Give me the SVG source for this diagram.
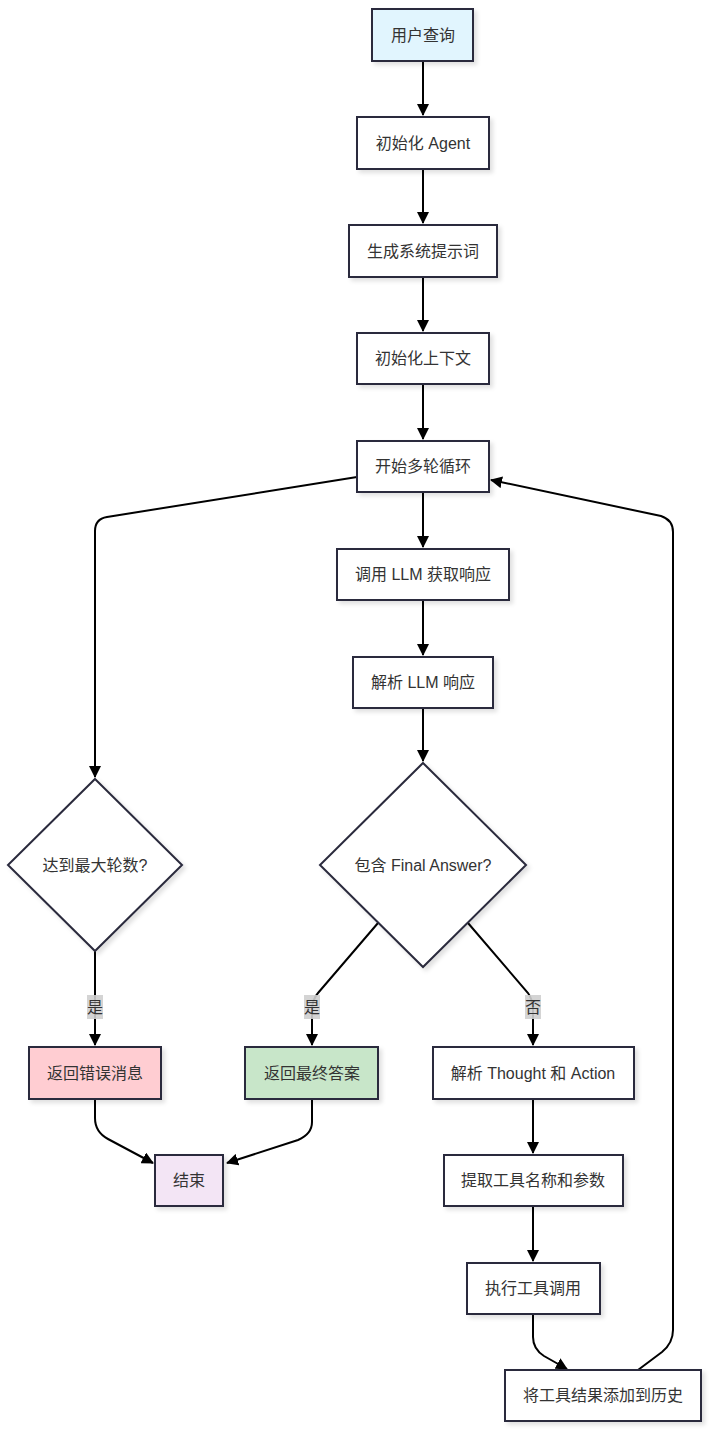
<svg xmlns="http://www.w3.org/2000/svg" width="711" height="1432" viewBox="0 0 711 1432">
<style>
.n{fill:#ffffff;stroke:#2b2b3d;stroke-width:2;filter:url(#sh)}
.t{font-family:"Liberation Sans","Noto Sans CJK SC",sans-serif;font-size:16px;fill:#333333;text-anchor:middle;dominant-baseline:central}
.e{fill:none;stroke:#000;stroke-width:2;marker-end:url(#ah)}
.lb{fill:#cfcfcf;opacity:0.9}
</style>
<defs>
<filter id="sh" x="-10%" y="-10%" width="130%" height="130%">
<feDropShadow dx="3" dy="3" stdDeviation="2" flood-color="#000" flood-opacity="0.12"/>
</filter>
<marker id="ah" markerWidth="12" markerHeight="12" refX="11" refY="6" orient="auto" markerUnits="userSpaceOnUse">
<path d="M0,0 L12,6 L0,12 z" fill="#000"/>
</marker>
</defs>
<g id="edges">
<path class="e" d="M423,61 L423,115"/>
<path class="e" d="M423,169 L423,223"/>
<path class="e" d="M423,277 L423,331"/>
<path class="e" d="M423,384 L423,439"/>
<path class="e" d="M423,492 L423,547"/>
<path class="e" d="M423,600 L423,655"/>
<path class="e" d="M423,708 L423,761"/>
<path class="e" d="M357,477 L107,517 Q95,519 95,531 L95,777"/>
<path class="e" d="M95,951 L95,1045"/>
<path class="e" d="M378,923 L318,993 Q312,1000 312,1010 L312,1045"/>
<path class="e" d="M468,923 L528,993 Q533,1000 533,1010 L533,1045"/>
<path class="e" d="M95,1099 L95,1118 Q95,1132 108,1139 L153,1163"/>
<path class="e" d="M312,1099 L312,1122 Q312,1134 298,1140 L227,1163"/>
<path class="e" d="M533,1099 L533,1153"/>
<path class="e" d="M533,1206 L533,1261"/>
<path class="e" d="M533,1314 L533,1337 Q533,1349 544,1356 L567,1369"/>
<path class="e" d="M638,1370 L662,1352 Q673,1343 673,1330 L673,532 Q673,520 661,516 L491,480"/>
<rect class="lb" x="87" y="995" width="16" height="24"/>
<text class="t" x="95" y="1007">是</text>
<rect class="lb" x="304" y="995" width="16" height="24"/>
<text class="t" x="312" y="1007">是</text>
<rect class="lb" x="525" y="995" width="16" height="24"/>
<text class="t" x="533" y="1007">否</text>
</g>
<g id="n1"><rect class="n" x="372" y="9" width="101" height="52" style="fill:#e1f5fe"/><text class="t" x="423" y="35">用户查询</text></g>
<g id="n2"><rect class="n" x="357" y="117" width="132" height="52"/><text class="t" x="423" y="143">初始化 Agent</text></g>
<g id="n3"><rect class="n" x="349" y="225" width="148" height="52"/><text class="t" x="423" y="251">生成系统提示词</text></g>
<g id="n4"><rect class="n" x="357" y="333" width="132" height="51"/><text class="t" x="423" y="358">初始化上下文</text></g>
<g id="n5"><rect class="n" x="357" y="441" width="132" height="51"/><text class="t" x="423" y="466">开始多轮循环</text></g>
<g id="n6"><rect class="n" x="337" y="549" width="172" height="51"/><text class="t" x="423" y="574">调用 LLM 获取响应</text></g>
<g id="n7"><rect class="n" x="353" y="657" width="140" height="51"/><text class="t" x="423" y="682">解析 LLM 响应</text></g>
<g id="n8"><polygon class="n" points="423,763 526,865 423,967 320,865"/><text class="t" x="423" y="865">包含 Final Answer?</text></g>
<g id="n9"><polygon class="n" points="95,779 182,865 95,951 8,865"/><text class="t" x="95" y="865">达到最大轮数?</text></g>
<g id="n10"><rect class="n" x="29" y="1047" width="132" height="52" style="fill:#ffcdd2"/><text class="t" x="95" y="1073">返回错误消息</text></g>
<g id="n11"><rect class="n" x="245" y="1047" width="133" height="52" style="fill:#c8e6c9"/><text class="t" x="312" y="1073">返回最终答案</text></g>
<g id="n12"><rect class="n" x="433" y="1047" width="201" height="52"/><text class="t" x="533" y="1073">解析 Thought 和 Action</text></g>
<g id="n13"><rect class="n" x="155" y="1155" width="68" height="51" style="fill:#f3e5f5"/><text class="t" x="189" y="1180">结束</text></g>
<g id="n14"><rect class="n" x="444" y="1155" width="179" height="51"/><text class="t" x="533" y="1180">提取工具名称和参数</text></g>
<g id="n15"><rect class="n" x="467" y="1263" width="133" height="51"/><text class="t" x="533" y="1288">执行工具调用</text></g>
<g id="n16"><rect class="n" x="505" y="1370" width="196" height="51"/><text class="t" x="603" y="1395">将工具结果添加到历史</text></g>
</svg>
